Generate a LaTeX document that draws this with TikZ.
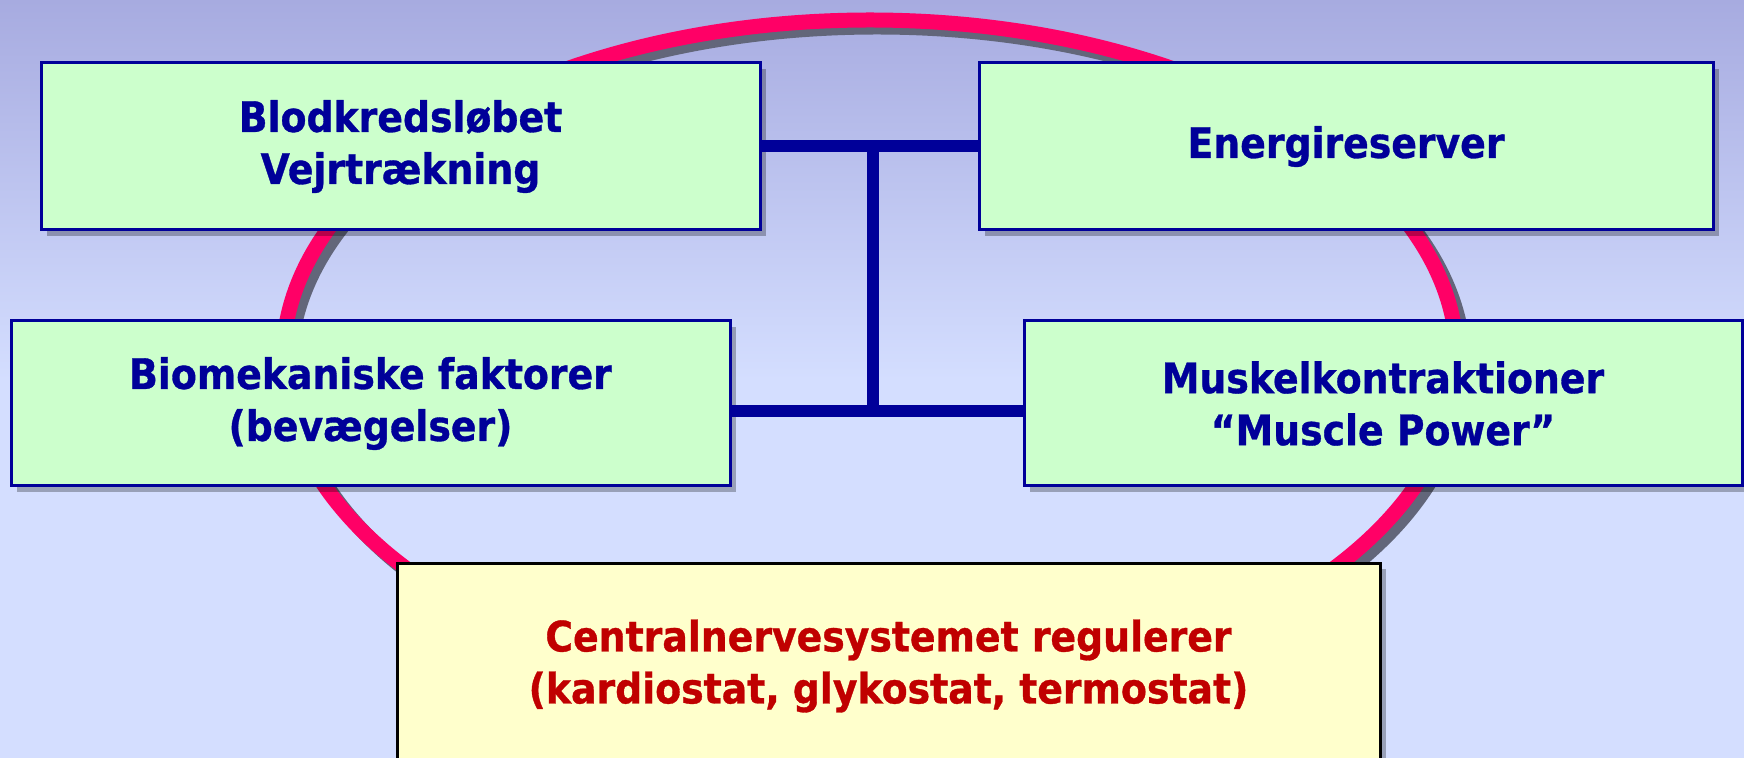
\documentclass[tikz,border=0pt]{standalone}
\usepackage{fontspec}
\setmainfont{DejaVu Sans}[FakeStretch=0.9, BoldFeatures={FakeBold=0.8}]
\usetikzlibrary{shadows}
\definecolor{navy}{HTML}{000099}
\definecolor{boxgreen}{HTML}{CCFFCC}
\definecolor{boxyellow}{HTML}{FFFFCC}
\definecolor{darkred}{HTML}{C00000}
\definecolor{ringred}{HTML}{FF0066}
\definecolor{ringgrey}{HTML}{62667A}
\definecolor{bgtop}{HTML}{A7ABE0}
\definecolor{bgbot}{HTML}{D4DEFF}
\begin{document}
\begin{tikzpicture}[x=0.5pt,y=-0.5pt,
  box/.style={draw=navy, line width=1.5pt, fill=boxgreen, inner sep=0pt, align=center,
    font=\fontsize{21}{26}\selectfont\bfseries, text=navy,
    drop shadow={shadow xshift=3pt, shadow yshift=-3pt, fill=black, opacity=0.28}},
  cnsbox/.style={box, draw=black, fill=boxyellow, text=darkred},
  link/.style={draw=navy, line width=6pt},
  ring/.style={line width=7.5pt}]
\useasboundingbox (0,0) rectangle (1744,758);
\clip (0,0) rectangle (1744,758);
% background
\fill[top color=bgtop, bottom color=bgbot] (0,0) rectangle (1744,380);
\fill[bgbot] (0,379) rectangle (1744,758);
% ring
\draw[ring, ringgrey] (877,367) ellipse [x radius=293.5pt, y radius=170pt];
\draw[ring, ringred] (870,360) ellipse [x radius=293.5pt, y radius=170pt];
% boxes
\node[box, minimum width=359.5pt, minimum height=83.5pt] (blod) at (400.5,146.5) {Blodkredsløbet\\Vejrtrækning};
\node[box, minimum width=367pt, minimum height=83.5pt] (energi) at (1346,146.5) {Energireserver};
\node[box, minimum width=359.5pt, minimum height=82.5pt] (biomek) at (370.5,403.5) {Biomekaniske faktorer\\(bevægelser)};
\node[box, minimum width=359pt, minimum height=82.5pt] (muskel) at (1383,403.5) {Muskelkontraktioner\\“Muscle Power”};
\node[cnsbox, minimum width=491.5pt, minimum height=103pt] (cns) at (888.5,666) {Centralnervesystemet regulerer\\(kardiostat, glykostat, termostat)};
% connectors
\coordinate (j) at (873,411);
\draw[link] (blod.east) -- (energi.west);
\draw[link] (biomek.east |- j) -- (muskel.west |- j);
\draw[link] (blod.east -| j) -- ([yshift=-3pt]j);
\end{tikzpicture}
\end{document}
